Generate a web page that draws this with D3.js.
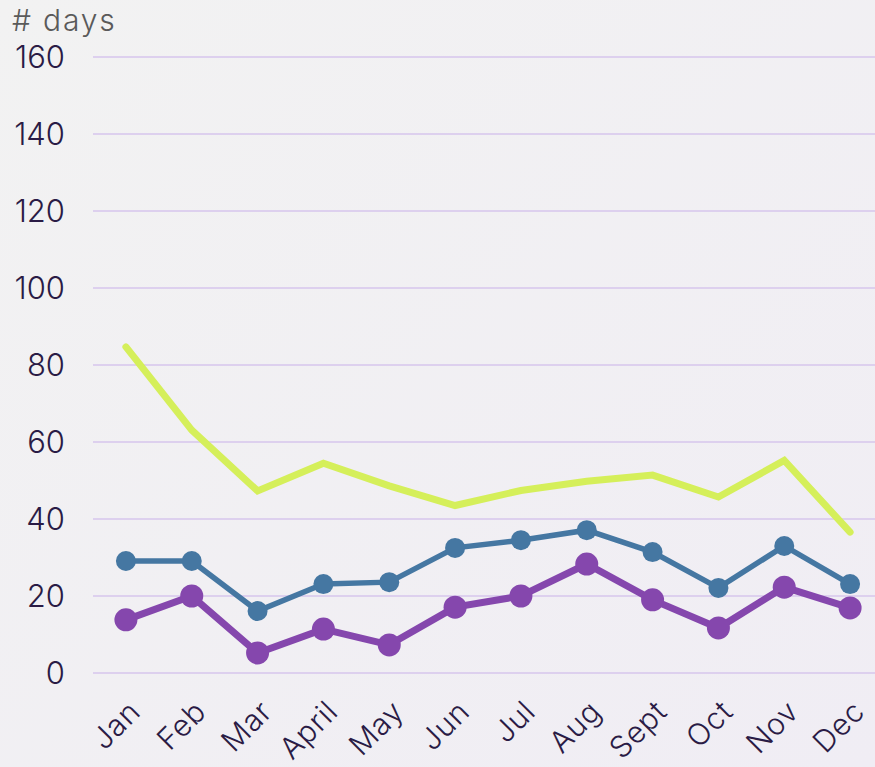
<!DOCTYPE html>
<html><head><meta charset="utf-8">
<script src="https://cdn.jsdelivr.net/npm/d3@7"></script>
<style>
html,body{margin:0;padding:0;}
body{width:875px;height:767px;overflow:hidden;background:#f1f1f3;}
</style></head>
<body>
<svg id="c" width="875" height="767"></svg>
<script>
const months = ["Jan","Feb","Mar","April","May","Jun","Jul","Aug","Sept","Oct","Nov","Dec"];
const yellowSeries = [84.7,63.1,47.3,54.5,48.6,43.5,47.4,49.8,51.4,45.7,55.2,36.6];
const blueSeries   = [29.1,29.1,16.1,23.1,23.6,32.5,34.5,37.1,31.4,22.1,33.0,23.1];
const purpleSeries = [13.8,20.0,5.2,11.4,7.3,17.1,20.0,28.3,19.0,11.7,22.3,16.9];
const yTicks = [0,20,40,60,80,100,120,140,160];
const yTitle = "# days";

const FONT = "Inter, 'Open Sans', sans-serif";
const svg = d3.select("#c");
const defs = svg.append("defs");
const grad = defs.append("linearGradient").attr("id","bg").attr("x1","0").attr("y1","0").attr("x2","1").attr("y2","1");
grad.append("stop").attr("offset","0").attr("stop-color","#f2f2f2");
grad.append("stop").attr("offset","1").attr("stop-color","#f0edf4");
svg.append("rect").attr("width",875).attr("height",767).attr("fill","url(#bg)");

const x = d3.scaleBand().domain(months).range([93,883]);
const y = d3.scaleLinear().domain([0,160]).range([673,57]);
const cx = d => x(d) + x.bandwidth()/2;

// grid
svg.append("g").selectAll("line").data(yTicks).join("line")
  .attr("x1",93).attr("x2",875)
  .attr("y1",d=>y(d)).attr("y2",d=>y(d))
  .attr("stroke","#ddd0ee").attr("stroke-width",2);

// y labels
svg.append("g").selectAll("text").data(yTicks).join("text")
  .attr("x",65).attr("y",d=>y(d)).attr("dy","0.36em")
  .attr("text-anchor","end")
  .attr("font-family",FONT).attr("font-weight",300)
  .attr("font-size",31).attr("fill","#2a1b45")
  .text(d=>d);

svg.append("text").attr("x",12).attr("y",31)
  .attr("font-family",FONT).attr("font-weight",300).attr("letter-spacing",1.8)
  .attr("font-size",30).attr("fill","#5a5a5a").text(yTitle);

// x labels
svg.append("g").selectAll("text").data(months).join("text")
  .attr("transform",d=>`translate(${cx(d)+9},${706}) rotate(-45)`)
  .attr("text-anchor","end").attr("dy","0.35em")
  .attr("font-family",FONT).attr("font-weight",300).attr("letter-spacing",0.8)
  .attr("font-size",30).attr("fill","#2a1b45")
  .text(d=>d);

const line = d3.line().x((d,i)=>cx(months[i])).y(d=>y(d));

svg.append("path").datum(yellowSeries).attr("d",line)
  .attr("fill","none").attr("stroke","#d5ef5a").attr("stroke-width",7)
  .attr("stroke-linejoin","miter").attr("stroke-linecap","round");

svg.append("path").datum(blueSeries).attr("d",line)
  .attr("fill","none").attr("stroke","#4577a2").attr("stroke-width",5.5);
svg.append("g").selectAll("circle").data(blueSeries).join("circle")
  .attr("cx",(d,i)=>cx(months[i])).attr("cy",d=>y(d)).attr("r",10)
  .attr("fill","#4577a2");

svg.append("path").datum(purpleSeries).attr("d",line)
  .attr("fill","none").attr("stroke","#8547ad").attr("stroke-width",7);
svg.append("g").selectAll("circle").data(purpleSeries).join("circle")
  .attr("cx",(d,i)=>cx(months[i])).attr("cy",d=>y(d)).attr("r",11.5)
  .attr("fill","#8547ad");
</script>
</body></html>
